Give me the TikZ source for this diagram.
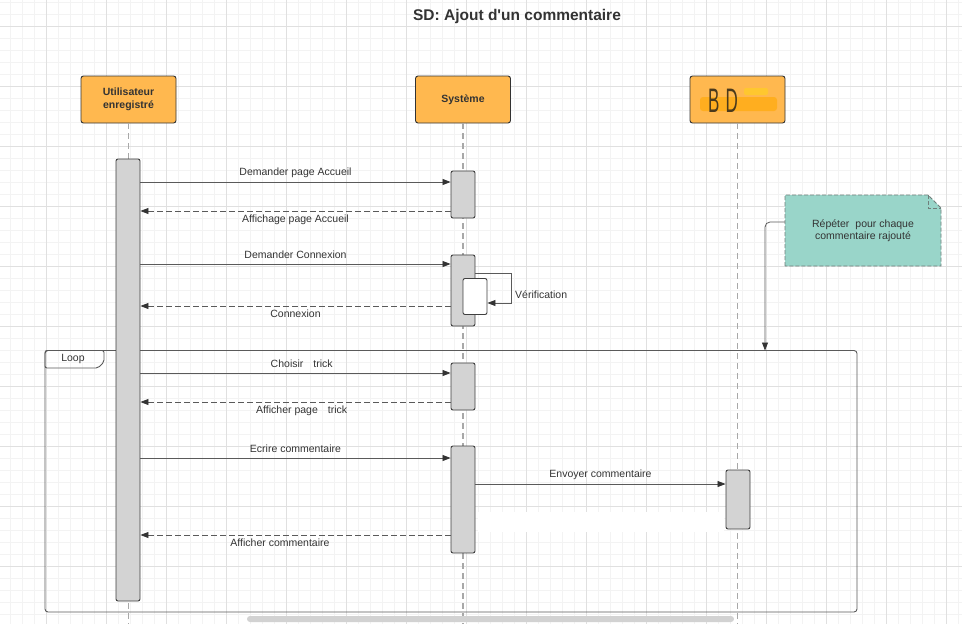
\documentclass[tikz,border=0pt]{standalone}
\usepackage{fontspec}
\setmainfont{Liberation Sans}
\usepackage{tikz}
\usetikzlibrary{arrows.meta}
\definecolor{ink}{HTML}{333333}
\definecolor{actorfill}{HTML}{FFB84F}
\definecolor{gridlo}{HTML}{F3F3F3}
\definecolor{gridhi}{HTML}{E0E0E0}
\definecolor{lifegray}{HTML}{A8A8A8}
\definecolor{bardark}{HTML}{3F3F3F}
\definecolor{barfill}{HTML}{D3D3D3}
\definecolor{msggray}{HTML}{5A5A5A}
\definecolor{notefill}{HTML}{99D5C9}
\definecolor{noteedge}{HTML}{6F7F7B}
\definecolor{bdink}{HTML}{4B3A1C}
\definecolor{hlorange}{HTML}{FFA800}
\definecolor{hlyellow}{HTML}{FFD21A}
\definecolor{scrollgray}{HTML}{D2D2D2}
\newcommand{\lblfont}{\fontsize{10.5}{12.5}\selectfont}

\begin{document}
\begin{tikzpicture}[x=1pt,y=-1pt]
\tikzstyle{every node}+=[inner sep=0pt, text=ink, font=\lblfont]
\tikzstyle{gridmin}=[draw=gridlo, line width=0.6pt]
\tikzstyle{gridmaj}=[draw=gridhi, line width=0.8pt]
\tikzstyle{actor}=[draw=ink, fill=actorfill, rounded corners=2.5pt, line width=0.9pt, minimum width=95pt, minimum height=47pt, align=center, font=\lblfont\bfseries]
\tikzstyle{life}=[draw=lifegray, line width=1.3pt, dash pattern=on 6pt off 4pt]
\tikzstyle{bar}=[draw=bardark, fill=barfill, rounded corners=2pt, line width=0.9pt, minimum width=24pt]
\tikzstyle{msg}=[draw=msggray, line width=0.8pt, -{Triangle[length=8pt,width=6pt,color=ink]}]
\tikzstyle{reply}=[msg, dash pattern=on 6pt off 3pt]
\tikzstyle{frame}=[draw=msggray, line width=0.9pt]
\useasboundingbox (0,0) rectangle (962,624);
\fill[white] (0,0) rectangle (962,624);
\foreach \gx in {10,22,...,958} {\draw[gridmin] (\gx,0) -- (\gx,624);}
\foreach \gy in {2,14,...,614} {\draw[gridmin] (0,\gy) -- (962,\gy);}
\foreach \gx in {46,106,...,946} {\draw[gridmaj] (\gx,0) -- (\gx,624);}
\foreach \gy in {26,86,...,566} {\draw[gridmaj] (0,\gy) -- (962,\gy);}
\node[font=\fontsize{15.5}{18}\selectfont\bfseries] (title) at (517,16) {SD: Ajout d\textquotesingle un commentaire};
\node[actor] (user) at (128.5,99.5) {Utilisateur\\enregistré};
\node[actor] (sys) at (463,99.5) {Système};
\node[actor] (bd) at (737.5,99.5) {};
\fill[hlorange, opacity=0.6, rounded corners=3pt] (700,97) rectangle (777,111);
\fill[hlyellow, opacity=0.6, rounded corners=2pt] (744,88) rectangle (768,95);
\node[font=\fontsize{34}{34}\selectfont, text=bdink, xscale=0.5] (bdtxt) at (723,101) {B\hspace{12pt}D};
\draw[life] (user.south) -- (user.south |- 0,624);
\draw[life] (sys.south) -- (sys.south |- 0,624);
\draw[life] (bd.south) -- (bd.south |- 0,624);
\draw[frame, rounded corners=3pt] (45,350.5) rectangle (857,612);
\draw[frame, rounded corners=2pt] (45,368) -- (45,350.5) -- (104,350.5) -- (104,362) -- (98,368) -- cycle;
\node (looplbl) at (73,358.5) {Loop};
\node[bar, minimum height=442pt] (ubar) at (128,380) {};
\node[bar, minimum height=47pt] (s1) at (463,194.5) {};
\node[bar, minimum height=71pt] (s2) at (463,290.5) {};
\node[bar, minimum height=47pt] (s3) at (463,386.5) {};
\node[bar, minimum height=107pt] (s4) at (463,499.5) {};
\node[bar, minimum height=59pt] (dbar) at (738,499.5) {};
\node[bar, fill=white, minimum width=24pt, minimum height=36pt] (check) at (475,296.5) {};
\draw[msg] (ubar.east |- 0,182) -- (s1.west |- 0,182) node (m1) [midway, above=4pt] {Demander page Accueil};
\draw[reply] (s1.west |- 0,211) -- (ubar.east |- 0,211) node (m2) [midway, below=3.5pt] {Affichage page Accueil};
\draw[msg] (ubar.east |- 0,264) -- (s2.west |- 0,264) node (m3) [midway, above=5pt] {Demander Connexion};
\draw[msg] (s2.east |- 0,273) -- (511,273) -- (511,303) -- (check.east |- 0,303);
\node[anchor=west] (verif) at (515,295) {Vérification};
\draw[reply] (s2.west |- 0,306) -- (ubar.east |- 0,306) node (m4) [midway, below=3.5pt] {Connexion};
\draw[msg] (ubar.east |- 0,373) -- (s3.west |- 0,373) node (m5) [pos=0.52, above=5.5pt] {Choisir\hspace{10pt}trick};
\draw[reply] (s3.west |- 0,402) -- (ubar.east |- 0,402) node (m6) [pos=0.48, below=3.5pt] {Afficher page\hspace{10pt}trick};
\draw[msg] (ubar.east |- 0,458) -- (s4.west |- 0,458) node (m7) [midway, above=5pt] {Ecrire commentaire};
\draw[msg] (s4.east |- 0,484) -- (dbar.west |- 0,484) node (m8) [midway, above=4pt] {Envoyer commentaire};
\fill[white] (478,512) rectangle (724,532);
\draw[reply] (s4.west |- 0,535) -- (ubar.east |- 0,535) node (m9) [pos=0.55, below=3.5pt] {Afficher commentaire};
\filldraw[fill=notefill, draw=noteedge, line width=0.8pt, dash pattern=on 4pt off 2pt] (785,266) -- (785,195) -- (928,195) -- (941,208) -- (941,266) -- cycle;
\draw[draw=noteedge, line width=0.8pt, dash pattern=on 4pt off 2pt] (928,195) -- (928,208) -- (941,208);
\node[align=center, minimum width=156pt, minimum height=71pt] (note) at (863,230.5) {Répéter\hspace{6pt}pour chaque\\commentaire rajouté};
\coordinate (looptop) at (765,350.5);
\draw[msg, rounded corners=5pt] (note.west |- 0,222) -| (looptop);
\fill[scrollgray, rounded corners=3pt] (247,616) rectangle (734,622);
\end{tikzpicture}
\end{document}
